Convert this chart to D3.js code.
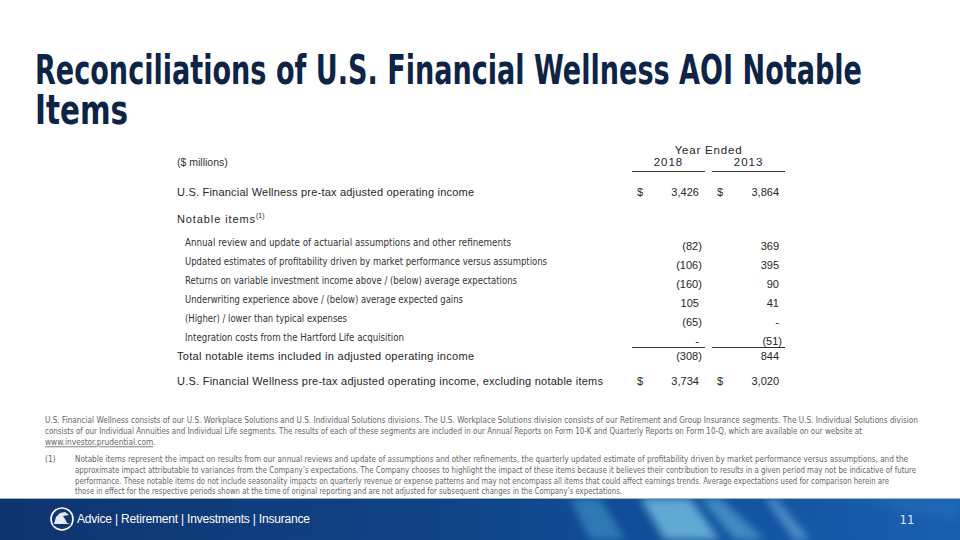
<!DOCTYPE html>
<html>
<head>
<meta charset="utf-8">
<script src="https://cdn.jsdelivr.net/npm/d3@7"></script>
<style>
  html, body { margin: 0; padding: 0; background: #fff; }
  svg { display: block; }
</style>
</head>
<body>
<svg id="slide" width="960" height="540"></svg>
<script>
"use strict";

// ---- data ----
const years = ["2018", "2013"];

const aoiLabel = "U.S. Financial Wellness pre-tax adjusted operating income";
const aoiValues = [3426, 3864];

const itemLabels = [
  "Annual review and update of actuarial assumptions and other refinements",
  "Updated estimates of profitability driven by market performance versus assumptions",
  "Returns on variable investment income above / (below) average expectations",
  "Underwriting experience above / (below) average expected gains",
  "(Higher) / lower than typical expenses",
  "Integration costs from the Hartford Life acquisition"
];
const items2018 = [-82, -106, -160, 105, -65, null];
const items2013 = [369, 395, 90, 41, null, -51];

const totalLabel = "Total notable items included in adjusted operating income";
const totalValues = [-308, 844];

const exclLabel = "U.S. Financial Wellness pre-tax adjusted operating income, excluding notable items";
const exclValues = [3734, 3020];

const footerLinks = ["Advice", "Retirement", "Investments", "Insurance"];

const noteLines = [
  "U.S. Financial Wellness consists of our U.S. Workplace Solutions and U.S. Individual Solutions divisions. The U.S. Workplace Solutions division consists of our Retirement and Group Insurance segments. The U.S. Individual Solutions division",
  "consists of our Individual Annuities and Individual Life segments.  The results of each of these segments are included in our Annual Reports on Form 10-K and Quarterly Reports on Form 10-Q, which are available on our website at"
];
const noteLink = "www.investor.prudential.com";
const fnLines = [
  "Notable items represent the impact on results from our annual reviews and update of assumptions and other refinements, the quarterly updated estimate of profitability driven by market performance versus assumptions, and the",
  "approximate impact attributable to variances from the Company\u2019s expectations. The Company chooses to highlight the impact of these items because it believes their contribution to results in a given period may not be indicative of future",
  "performance. These notable items do not include seasonality impacts on quarterly revenue or expense patterns and may not encompass all items that could affect earnings trends. Average expectations used for comparison herein are",
  "those in effect for the respective periods shown at the time of original reporting and are not adjusted for subsequent changes in the Company\u2019s expectations."
];

// ---- layout ----
const navy = "#0e2447";
const ink = "#262626";
const grey = "#666";
const narrow = "'Liberation Sans Narrow', 'Arial Narrow', 'DejaVu Sans Condensed', sans-serif";
const sans = "'Liberation Sans', Arial, sans-serif";

// label widths measured off the slide (used with textLength)
const labelWidth = {};
labelWidth[aoiLabel] = 297;
labelWidth[totalLabel] = 297;
labelWidth[exclLabel] = 426;
[326, 362, 332, 278, 162, 219].forEach((w, i) => labelWidth[itemLabels[i]] = w);
const noteWidths = [873, 817];
const fnWidths = [833, 841, 814, 547];

const svg = d3.select("#slide");

// title
const title = svg.append("g")
  .attr("font-family", narrow)
  .attr("font-weight", "bold")
  .attr("font-size", 40)
  .attr("fill", navy);
title.append("text").attr("x", 35).attr("y", 84)
  .attr("textLength", 827).attr("lengthAdjust", "spacingAndGlyphs")
  .text("Reconciliations of U.S. Financial Wellness AOI Notable");
title.append("text").attr("x", 35).attr("y", 124)
  .attr("textLength", 93).attr("lengthAdjust", "spacingAndGlyphs")
  .text("Items");

// scales
const x = d3.scaleBand().domain(years).range([632, 785]).paddingInner(0.09).paddingOuter(0);
const yItems = d3.scaleBand().domain(itemLabels).range([234, 347]);

const fmt = v => {
  if (v === null) return "-";
  const s = d3.format(",")(Math.abs(v));
  return v < 0 ? "(" + s + ")" : s;
};
const valueRight = (year, v) => x(year) + x.bandwidth() - (v !== null && v < 0 ? 3 : 6);

const table = svg.append("g").attr("font-family", sans).attr("fill", ink);

// header
table.append("text")
  .attr("x", 177).attr("y", 166).attr("font-size", 10.5).attr("fill", "#333")
  .text("($ millions)");
table.append("text")
  .attr("x", (x.range()[0] + x.range()[1]) / 2).attr("y", 154)
  .attr("text-anchor", "middle").attr("font-size", 11.5).attr("letter-spacing", 0.8)
  .text("Year Ended");
table.selectAll(".yr").data(years).enter().append("text")
  .attr("class", "yr")
  .attr("x", d => x(d) + x.bandwidth() / 2).attr("y", 166)
  .attr("text-anchor", "middle").attr("font-size", 11.5).attr("letter-spacing", 1)
  .text(d => d);
table.selectAll(".yrline").data(years).enter().append("line")
  .attr("class", "yrline")
  .attr("x1", d => x(d)).attr("x2", d => x(d) + x.bandwidth())
  .attr("y1", 171.5).attr("y2", 171.5)
  .attr("stroke", "#333").attr("stroke-width", 1.2);

// generic row drawing
function drawRow(label, values, y, opts) {
  const g = table.append("g");
  g.append("text")
    .attr("x", opts.indent ? 185 : 177).attr("y", y)
    .attr("font-family", opts.indent ? narrow : sans)
    .attr("font-size", opts.indent ? 11 : 11)
    .attr("fill", opts.indent ? "#333" : ink)
    .attr("textLength", labelWidth[label])
    .attr("lengthAdjust", opts.indent ? "spacingAndGlyphs" : "spacing")
    .text(label);
  g.selectAll(".v").data(years).enter().append("text")
    .attr("x", (d, i) => valueRight(d, values[i]))
    .attr("y", y + (opts.drop || 0))
    .attr("text-anchor", "end").attr("font-size", 11)
    .text((d, i) => fmt(values[i]));
  if (opts.dollar) {
    g.selectAll(".d").data(years).enter().append("text")
      .attr("x", d => x(d) + 5).attr("y", y)
      .attr("font-size", 11)
      .text("$");
  }
}

drawRow(aoiLabel, aoiValues, 196, { dollar: true });

// Notable items heading with footnote marker
const ni = table.append("text").attr("x", 177).attr("y", 223).attr("font-size", 11).attr("letter-spacing", 0.9);
ni.append("tspan").text("Notable items");
ni.append("tspan").attr("dy", -5).attr("font-size", 7).attr("letter-spacing", 0).text("(1)");

itemLabels.forEach((label, i) => {
  drawRow(label, [items2018[i], items2013[i]], yItems(label) + yItems.bandwidth() / 2 + 3, { indent: true, drop: 4 });
});

table.selectAll(".sumline").data(years).enter().append("line")
  .attr("class", "sumline")
  .attr("x1", d => x(d)).attr("x2", d => x(d) + x.bandwidth())
  .attr("y1", 347.5).attr("y2", 347.5)
  .attr("stroke", "#333").attr("stroke-width", 1.2);

drawRow(totalLabel, totalValues, 360, {});
drawRow(exclLabel, exclValues, 385, { dollar: true });

// notes
const notes = svg.append("g").attr("font-family", narrow).attr("font-size", 8.3).attr("fill", grey);
noteLines.forEach((t, i) => {
  notes.append("text").attr("x", 45).attr("y", 423 + i * 11.2)
    .attr("textLength", noteWidths[i]).attr("lengthAdjust", "spacingAndGlyphs").text(t);
});
const link = notes.append("text").attr("x", 45).attr("y", 445.4);
link.append("tspan").attr("text-decoration", "underline").text(noteLink);
link.append("tspan").text(".");
notes.append("text").attr("x", 45).attr("y", 462).text("(1)");
fnLines.forEach((t, i) => {
  notes.append("text").attr("x", 75).attr("y", 462 + i * 10.8)
    .attr("textLength", fnWidths[i]).attr("lengthAdjust", "spacingAndGlyphs").text(t);
});

// footer band
const defs = svg.append("defs");
const grad = defs.append("linearGradient").attr("id", "band").attr("x1", 0).attr("x2", 1).attr("y1", 0).attr("y2", 0);
[["0%", "#0f3470"], ["45%", "#104385"], ["70%", "#11509c"], ["100%", "#1a5fb0"]]
  .forEach(s => grad.append("stop").attr("offset", s[0]).attr("stop-color", s[1]));
const blur = defs.append("filter").attr("id", "soft").attr("x", -0.5).attr("y", -0.5).attr("width", 2).attr("height", 2);
blur.append("feGaussianBlur").attr("stdDeviation", 4);
const clip = defs.append("clipPath").attr("id", "bandclip");
clip.append("rect").attr("x", 0).attr("y", 498).attr("width", 960).attr("height", 42);

const footer = svg.append("g");
footer.append("rect").attr("x", 0).attr("y", 498).attr("width", 960).attr("height", 42).attr("fill", "url(#band)");

const streaks = [
  { pts: [[570, 498], [600, 498], [625, 540], [590, 540]], c: "#4a9fd0", o: 0.55 },
  { pts: [[640, 498], [690, 498], [720, 540], [665, 540]], c: "#7cc6e6", o: 0.75 },
  { pts: [[700, 498], [720, 498], [765, 540], [735, 540]], c: "#6bb8e0", o: 0.55 },
  { pts: [[765, 498], [775, 498], [810, 540], [795, 540]], c: "#8acfee", o: 0.5 },
  { pts: [[860, 498], [960, 498], [960, 520], [900, 512]], c: "#2a78c4", o: 0.35 }
];
const sg = footer.append("g").attr("clip-path", "url(#bandclip)");
sg.selectAll("path").data(streaks).enter().append("path")
  .attr("d", d => "M" + d.pts.map(p => p.join(",")).join("L") + "Z")
  .attr("fill", d => d.c).attr("opacity", d => d.o).attr("filter", "url(#soft)");

footer.append("line").attr("x1", 0).attr("x2", 960).attr("y1", 498.5).attr("y2", 498.5)
  .attr("stroke", "#9fb3cf").attr("stroke-width", 1);

// logo
const logo = footer.append("g").attr("transform", "translate(62,519)");
logo.append("circle").attr("r", 11).attr("fill", "none").attr("stroke", "#fff").attr("stroke-width", 1.6);
logo.append("path")
  .attr("d", "M-8,5 L-6,-2 L-2,-6 L3,-7 L7,-4 L1,-3 L3,0 L5,4 L8,5 Z")
  .attr("fill", "#fff").attr("opacity", 0.9);
logo.append("path")
  .attr("d", "M-9,6 L9,6")
  .attr("stroke", "#0f3470").attr("stroke-width", 1);

footer.append("text")
  .attr("x", 77).attr("y", 523)
  .attr("font-family", sans).attr("font-size", 12).attr("fill", "#fff")
  .attr("textLength", 233).attr("lengthAdjust", "spacing")
  .text(footerLinks.join("  |  "));

footer.append("text")
  .attr("x", 907).attr("y", 524).attr("text-anchor", "middle")
  .attr("font-family", narrow).attr("font-size", 13).attr("fill", "#dde8f5")
  .text("11");
</script>
</body>
</html>
